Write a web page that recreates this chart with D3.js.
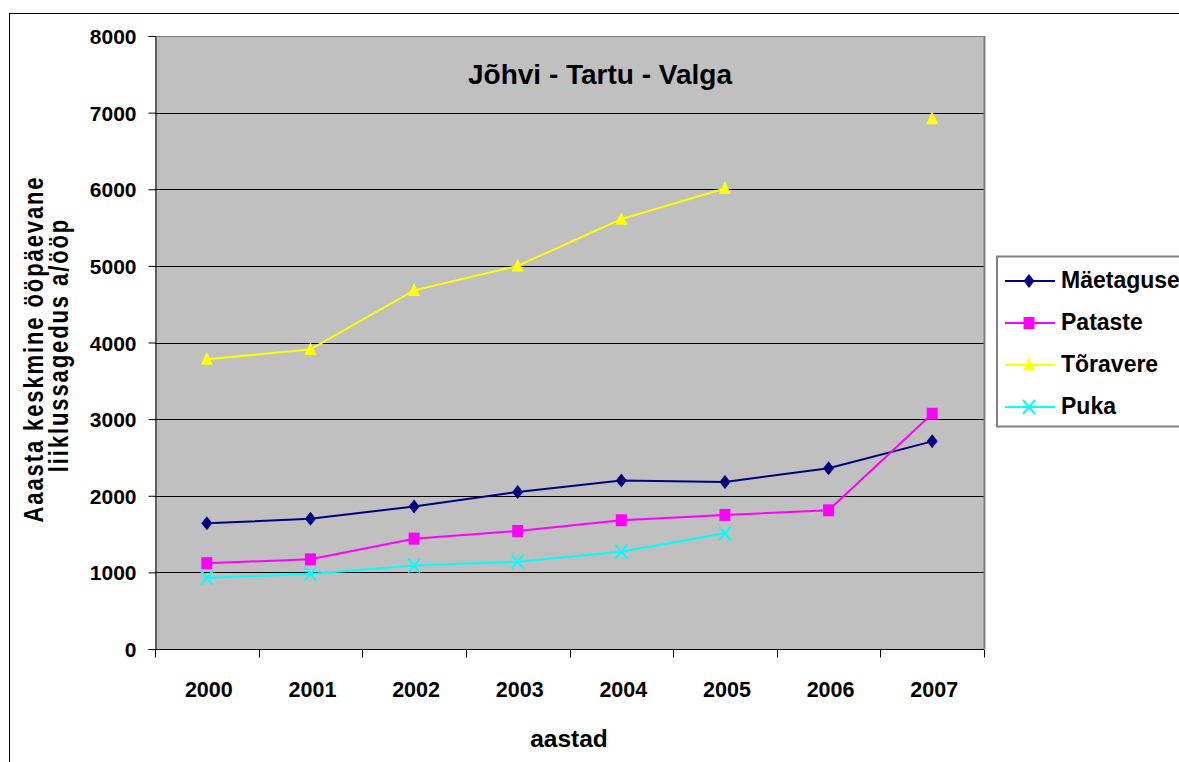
<!DOCTYPE html>
<html><head><meta charset="utf-8">
<script src="https://cdn.jsdelivr.net/npm/d3@7"></script>
<style>
body{margin:0;background:#fff;}
svg{display:block;font-family:"Liberation Sans",Arial,sans-serif;}
</style></head>
<body><svg id="c" width="1179" height="762"></svg>
<script>
const years = ["2000","2001","2002","2003","2004","2005","2006","2007"];
const maetaguse = [1640,1700,1860,2050,2200,2180,2360,2710];
const pataste   = [1120,1170,1440,1540,1680,1750,1810,3070];
const toravere  = [3780,3910,4680,5000,5610,6010,null,6920];
const puka      = [930,980,1090,1140,1270,1510,null,null];
const yTicks = [0,1000,2000,3000,4000,5000,6000,7000,8000];
const seriesNames = ["Mäetaguse","Pataste","Tõravere","Puka"];
const seriesColors = ["#000080","#FF00FF","#FFFF00","#00FFFF"];
const seriesMarkers = ["diamond","square","triangle","x"];
const seriesData = [maetaguse,pataste,toravere,puka];

const svg = d3.select("#c");
const L=155,R=984,T=36,B=649;

// outer chart border
svg.append("rect").attr("x",9.5).attr("y",13.5).attr("width",1300).attr("height",800)
  .attr("fill","none").attr("stroke","#000").attr("stroke-width",1);

const x = d3.scaleBand().domain(years).range([L,R]).padding(0);
const y = d3.scaleLinear().domain([0,8000]).range([B,T]);

svg.append("rect").attr("x",L).attr("y",T).attr("width",R-L).attr("height",B-T).attr("fill","#C0C0C0");
// gridlines
svg.append("g").selectAll("line").data(yTicks.filter(d=>d>0)).join("line")
  .attr("x1",L).attr("x2",R).attr("y1",d=>Math.round(y(d))+0.5).attr("y2",d=>Math.round(y(d))+0.5)
  .attr("stroke","#000").attr("stroke-width",1);
svg.append("line").attr("x1",R+0.5).attr("x2",R+0.5).attr("y1",T).attr("y2",B).attr("stroke","#808080").attr("stroke-width",2);
svg.append("line").attr("x1",L).attr("x2",R).attr("y1",T+0.5).attr("y2",T+0.5).attr("stroke","#808080").attr("stroke-width",1);

// y axis
const yAxis = d3.axisLeft(y).tickValues(yTicks).tickSize(7).tickPadding(12).tickFormat(d3.format("d"));
const gy = svg.append("g").attr("transform",`translate(${L+0.5},0)`).call(yAxis);
gy.select(".domain").attr("stroke","#000");
gy.selectAll("line").attr("stroke","#000");
gy.selectAll("text").attr("font-size",21).attr("font-weight","bold").attr("fill","#000")
  .attr("font-family","Liberation Sans, Arial, sans-serif").attr("dy","0.36em");

// x axis
const gx = svg.append("g").attr("transform",`translate(0,${B+0.5})`);
gx.append("line").attr("x1",L).attr("x2",R).attr("stroke","#000");
const bounds = years.map(d=>x(d)).concat([R]);
gx.selectAll("line.t").data(bounds).join("line").attr("class","t")
  .attr("x1",d=>Math.round(d)+0.5).attr("x2",d=>Math.round(d)+0.5).attr("y1",0).attr("y2",8).attr("stroke","#000");
gx.selectAll("text").data(years).join("text")
  .attr("x",d=>x(d)+x.bandwidth()/2+2).attr("y",47).attr("text-anchor","middle")
  .attr("font-size",21.5).attr("font-weight","bold").text(d=>d);

// axis titles
svg.append("text").attr("x",569).attr("y",747).attr("text-anchor","middle")
  .attr("font-size",24.5).attr("font-weight","bold").text("aastad");
svg.append("text").attr("transform","translate(43,349) rotate(-90) scale(1,1.25)")
  .attr("text-anchor","middle").attr("font-size",22).attr("font-weight","bold")
  .attr("letter-spacing",1.9).text("Aaasta keskmine ööpäevane");
svg.append("text").attr("transform","translate(68,345) rotate(-90) scale(1,1.25)")
  .attr("text-anchor","middle").attr("font-size",22).attr("font-weight","bold")
  .attr("letter-spacing",1.9).text("liiklussagedus a/ööp");

// title
svg.append("text").attr("x",600).attr("y",84).attr("text-anchor","middle")
  .attr("font-size",28).attr("font-weight","bold").text("Jõhvi - Tartu - Valga");

// markers
function marker(g,type,color,cx,cy){
  if(type==="diamond"){
    g.append("path").attr("d",`M${cx},${cy-7}L${cx+5.5},${cy}L${cx},${cy+7}L${cx-5.5},${cy}Z`).attr("fill",color);
  }else if(type==="square"){
    g.append("rect").attr("x",cx-5.5).attr("y",cy-6).attr("width",11).attr("height",12).attr("fill",color);
  }else if(type==="triangle"){
    g.append("path").attr("d",`M${cx},${cy-7.5}L${cx+6},${cy+5.5}L${cx-6},${cy+5.5}Z`).attr("fill",color);
  }else{
    g.append("path").attr("d",`M${cx-6},${cy-7}L${cx+6},${cy+7}M${cx+6},${cy-7}L${cx-6},${cy+7}`)
      .attr("stroke",color).attr("stroke-width",2).attr("fill","none");
  }
}
const line = d3.line().defined(d=>d[1]!==null).x(d=>x(d[0])+x.bandwidth()/2).y(d=>y(d[1]));
seriesData.forEach((vals,i)=>{
  const pts = years.map((yr,j)=>[yr,vals[j]]);
  const g = svg.append("g");
  g.append("path").attr("d",line(pts)).attr("fill","none").attr("stroke",seriesColors[i]).attr("stroke-width",2);
  pts.filter(p=>p[1]!==null).forEach(p=>marker(g,seriesMarkers[i],seriesColors[i],x(p[0])+x.bandwidth()/2,y(p[1])));
});

// legend
const lg = svg.append("g");
lg.append("rect").attr("x",997).attr("y",256.5).attr("width",200).attr("height",170)
  .attr("fill","#fff").attr("stroke","#808080").attr("stroke-width",2);
const ly = [281,323,365,407];
seriesNames.forEach((n,i)=>{
  lg.append("line").attr("x1",1005).attr("x2",1055).attr("y1",ly[i]).attr("y2",ly[i]).attr("stroke",seriesColors[i]).attr("stroke-width",2);
  marker(lg,seriesMarkers[i],seriesColors[i],1029,ly[i]);
  lg.append("text").attr("x",1061).attr("y",ly[i]+7).attr("font-size",23).attr("font-weight","bold").text(n);
});
</script></body></html>
